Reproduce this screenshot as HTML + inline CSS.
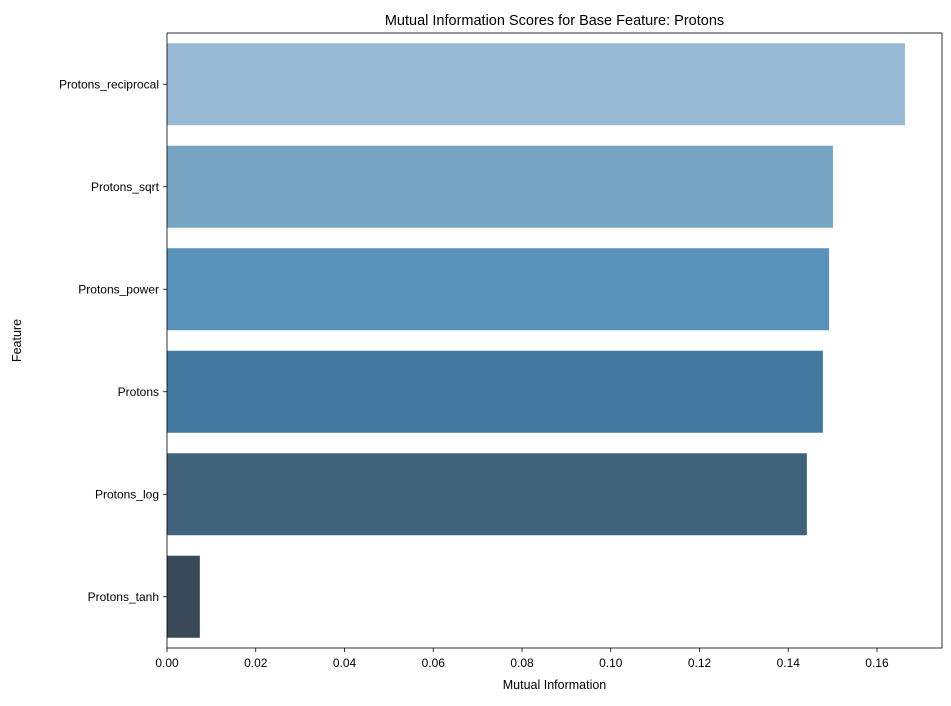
<!DOCTYPE html>
<html><head><meta charset="utf-8"><style>
body{margin:0;background:#fff;}
svg text{font-family:"Liberation Sans","DejaVu Sans",sans-serif;fill:#000;}
</style></head><body>
<svg id="chart" width="951" height="701"></svg>
<script>
const categories=["Protons_reciprocal","Protons_sqrt","Protons_power","Protons","Protons_log","Protons_tanh"];
const values=[0.1663,0.1501,0.1492,0.1478,0.1442,0.0074];
const colors=["#97b9d3","#77a6c5","#5891b9","#44799f","#40627b","#394957"];
const xTicks=[0,0.02,0.04,0.06,0.08,0.10,0.12,0.14,0.16];
const xTickLabels=["0.00","0.02","0.04","0.06","0.08","0.10","0.12","0.14","0.16"];
const L=167,R=942,T=33,B=648,xMax=0.17465;
const NS="http://www.w3.org/2000/svg";
const svg=document.getElementById('chart');
function x(v){return L+v/xMax*(R-L);}
const band=(B-T)/categories.length;
function y(i){return T+band*i;}
function mk(tag,attrs,parent){const e=document.createElementNS(NS,tag);for(const k in attrs)e.setAttribute(k,attrs[k]);(parent||svg).appendChild(e);return e;}
categories.forEach((c,i)=>{
  const r=mk('rect',{x:x(0),y:y(i)+band*0.1,width:x(values[i])-x(0),height:band*0.8,fill:colors[i]});
  
  
  const cy=y(i)+band/2;
  mk('line',{x1:L-4,x2:L,y1:cy,y2:cy,stroke:'#000','stroke-width':0.8});
  const t=mk('text',{x:L-8,y:cy+4,'text-anchor':'end','font-size':12});
  t.textContent=c;
  
  
});
xTicks.forEach((v,i)=>{
  const px=x(v);
  mk('line',{x1:px,x2:px,y1:B,y2:B+4,stroke:'#000','stroke-width':0.8});
  const t=mk('text',{x:px,y:B+19,'text-anchor':'middle','font-size':12});
  t.textContent=xTickLabels[i];
  
  
});
const frame=mk('rect',{x:L,y:T,width:R-L,height:B-T,fill:'none',stroke:'#000','stroke-width':0.8});


const title=mk('text',{x:(L+R)/2,y:T-8,'text-anchor':'middle','font-size':14.5});
title.textContent="Mutual Information Scores for Base Feature: Protons";


const xt=mk('text',{x:(L+R)/2,y:689,'text-anchor':'middle','font-size':12.5});
xt.textContent="Mutual Information";


const yt=mk('text',{x:21,y:(T+B)/2,'text-anchor':'middle','font-size':12.5,transform:`rotate(-90 21 ${(T+B)/2})`});
yt.textContent="Feature";


</script>
</body></html>
